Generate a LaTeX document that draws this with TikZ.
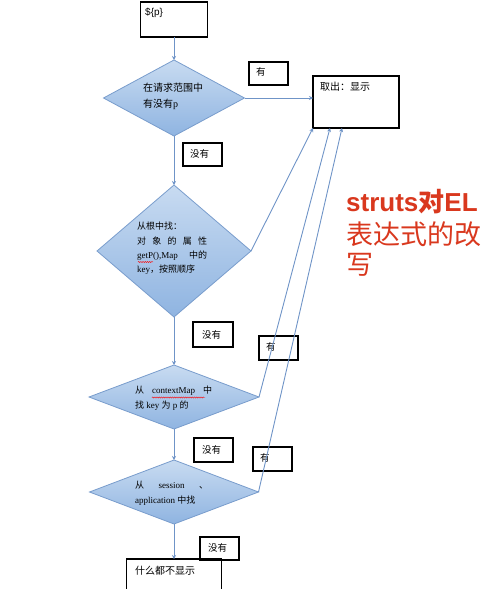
\documentclass[tikz,border=0pt]{standalone}
\usepackage{fontspec}
\setmainfont{Liberation Serif}
\newfontfamily\cjk{Noto Sans CJK SC}
\newfontfamily\lsans{Liberation Sans}
\usetikzlibrary{shapes.geometric,arrows.meta,decorations.pathmorphing}
\definecolor{conn}{RGB}{111,148,199}
\definecolor{dtop}{RGB}{200,219,241}
\definecolor{dbot}{RGB}{143,180,225}
\definecolor{dline}{RGB}{120,156,204}
\definecolor{titlered}{RGB}{217,56,30}
\newcommand{\zh}[1]{{\cjk #1}}
\begin{document}
\begin{tikzpicture}[x=1pt,y=-1pt,
  box/.style={draw=black,line width=1.1pt,inner sep=0,outer sep=0,anchor=north west},
  dec/.style={diamond,draw=dline,line width=0.8pt,top color=dtop,bottom color=dbot,inner sep=0,outer sep=0},
  txt/.style={anchor=west,inner sep=0,font=\fontsize{9.5}{10}\selectfont},
  mtxt/.style={anchor=west,inner sep=0,align=left},
  flow/.style={draw=conn,line width=0.9pt,-{Stealth[length=4pt,width=4pt]}},
  squig/.style={draw=red,line width=0.4pt,decorate,decoration={snake,amplitude=0.6pt,segment length=2.2pt}},
  title/.style={anchor=base west,inner sep=0,text=titlered}]
\useasboundingbox (0,0) rectangle (492,589);

% boxes
\node[box,minimum width=67,minimum height=35] (p) at (140.5,2) {};
\node[box,minimum width=39,minimum height=23] (y1) at (249,62) {};
\node[box,minimum width=86,minimum height=52] (out) at (313,76) {};
\node[box,minimum width=39,minimum height=23] (n1) at (183,143) {};
\node[box,minimum width=40,minimum height=25] (n2) at (193,322) {};
\node[box,minimum width=39,minimum height=24] (y2) at (259,336) {};
\node[box,minimum width=39,minimum height=24] (n3) at (194,438) {};
\node[box,minimum width=39,minimum height=24] (y3) at (253,447) {};
\node[box,minimum width=39,minimum height=23] (n4) at (200,537) {};
\node[box,minimum width=95,minimum height=45] (last) at (126.5,559) {};

% box texts
\node[txt,font=\fontsize{10}{10}\selectfont] (tp) at (145,13) {\lsans \$\{p\}};
\node[txt] (ty1) at (256,72) {\zh{有}};
\node[txt,font=\fontsize{10}{10}\selectfont] (tout) at (320,87) {\zh{取出：显示}};
\node[txt] (tn1) at (190,154) {\zh{没有}};
\node[txt] (tn2) at (202,335) {\zh{没有}};
\node[txt] (ty2) at (266,347) {\zh{有}};
\node[txt] (tn3) at (202,450) {\zh{没有}};
\node[txt] (ty3) at (260,458) {\zh{有}};
\node[txt] (tn4) at (208,548) {\zh{没有}};
\node[txt,font=\fontsize{10}{10}\selectfont] (tlast) at (135,571) {\zh{什么都不显示}};

% diamonds
\node[dec,minimum width=141,minimum height=76] (d1) at (174,98) {};
\node[dec,minimum width=154,minimum height=132] (d2) at (174,251) {};
\node[dec,minimum width=170,minimum height=64] (d3) at (174,397) {};
\node[dec,minimum width=169,minimum height=64] (d4) at (174,492) {};

% diamond texts
\node[mtxt,font=\fontsize{10}{16}\selectfont] (t1) at (143,96) {\zh{在请求范围中}\\\zh{有没有}p};
\node[mtxt,font=\fontsize{9}{14.3}\selectfont] (t2) at (137,248.5)
  {\zh{从根中找：}\\\makebox[70pt][s]{\zh{对} \zh{象} \zh{的} \zh{属} \zh{性}}\\\makebox[70pt][s]{getP(),Map \zh{中的}}\\key\zh{，按照顺序}};
\node[mtxt,font=\fontsize{9}{15}\selectfont] (t3) at (135,398.5)
  {\makebox[77pt][s]{\zh{从} contextMap \zh{中}}\\\zh{找} key \zh{为} p \zh{的}};
\node[mtxt,font=\fontsize{9}{15}\selectfont] (t4) at (135,493.5)
  {\makebox[73pt][s]{\zh{从} session \zh{、}}\\application \zh{中找}};

% spell-check squiggles
\draw[squig] (138,262) -- (153,262);
\draw[squig] (152,397.5) -- (205,397.5);

% connectors
\coordinate (o2) at (330,128);
\coordinate (o3) at (342,128);
\draw[flow] (p.south) -- (d1.north);
\draw[flow] (d1.east) -- (d1.east -| out.west);
\draw[flow] (d1.south) -- (d2.north);
\draw[flow] (d2.south) -- (d3.north);
\draw[flow] (d3.south) -- (d4.north);
\draw[flow] (d4.south) -- (last.north);
\draw[flow] (d2.east) -- (out.south west);
\draw[flow] (d3.east) -- (o2);
\draw[flow] (d4.east) -- (o3);

% title
\node[title,font=\fontsize{26}{26}\selectfont] (h1) at (346,211) {\lsans\bfseries struts\zh{对}EL};
\node[title,font=\fontsize{27}{27}\selectfont] (h2) at (346,244) {\zh{表达式的改}};
\node[title,font=\fontsize{27}{27}\selectfont] (h3) at (346,274) {\zh{写}};
\end{tikzpicture}
\end{document}
